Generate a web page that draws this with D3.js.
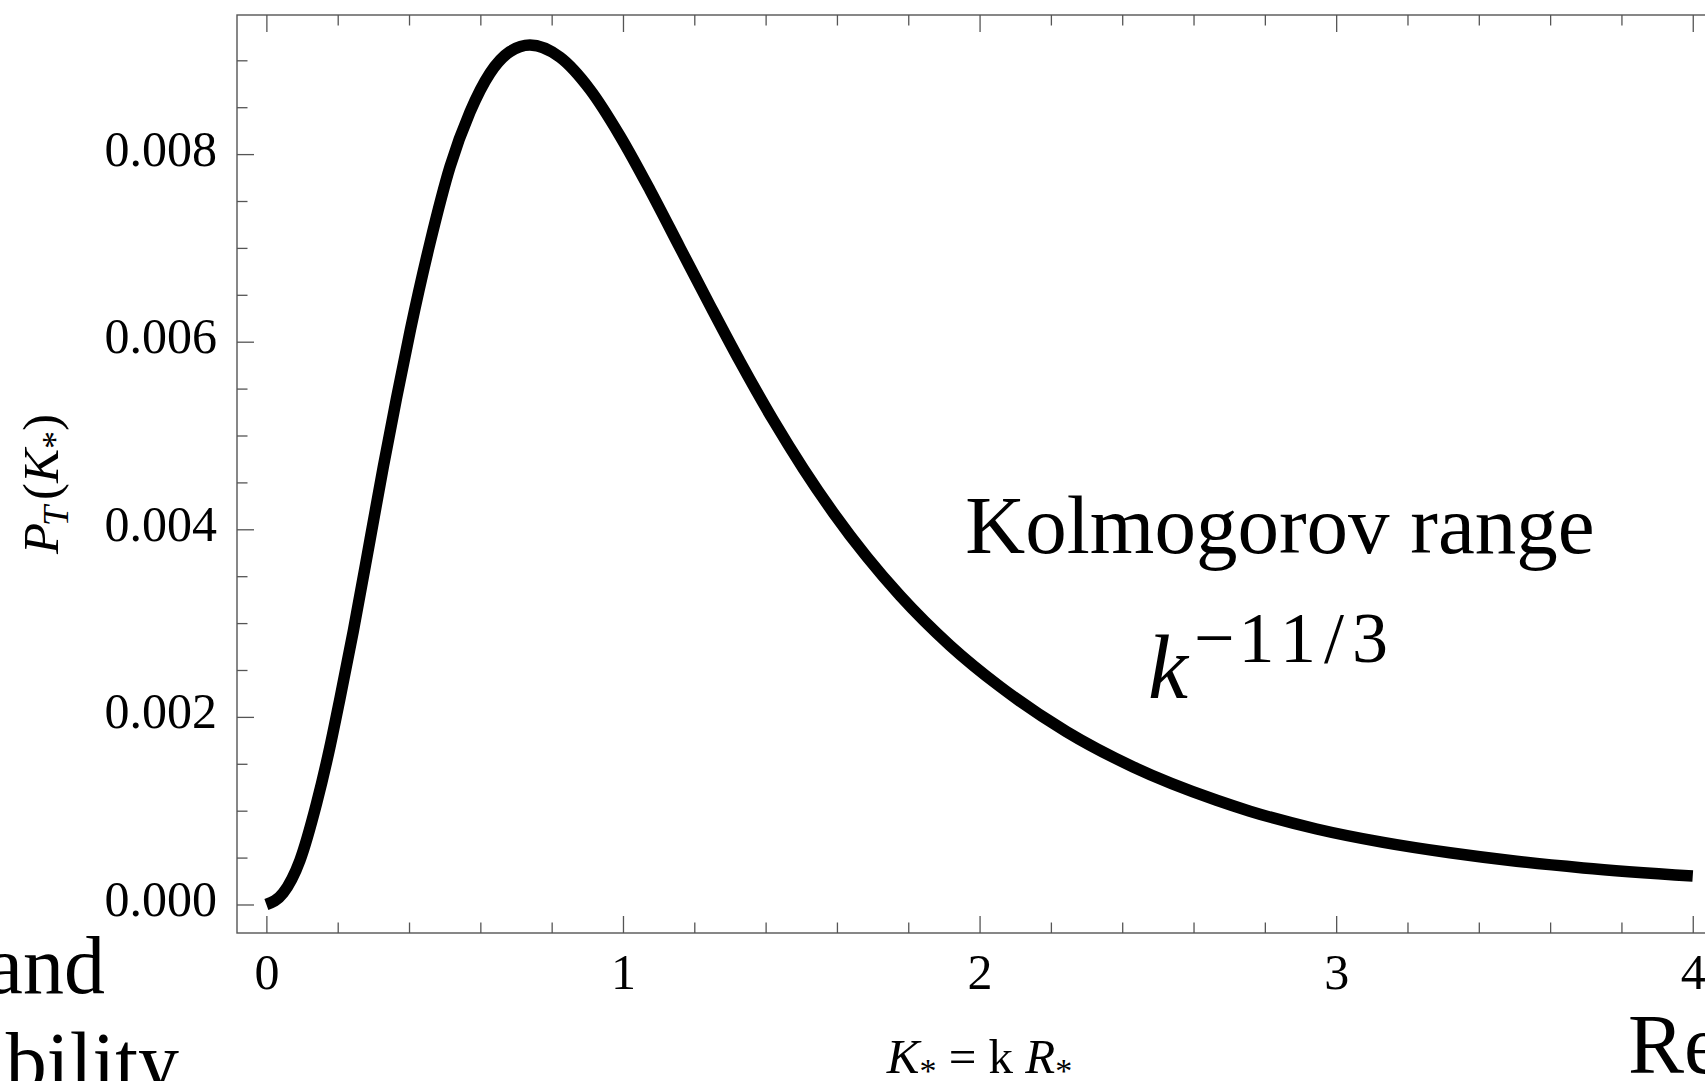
<!DOCTYPE html>
<html>
<head>
<meta charset="utf-8">
<script src="https://cdn.jsdelivr.net/npm/d3@7"></script>
<style>
  html, body { margin: 0; padding: 0; background: #fff; overflow: hidden; }
  svg { display: block; font-family: "Liberation Serif", "Times New Roman", serif; }
</style>
</head>
<body>
<script>
// transverse power spectrum P_T(K*) against K* = k R*
var kStar = [0, 0.047, 0.094, 0.141, 0.178, 0.206, 0.244, 0.291, 0.328, 0.365, 0.404,
  0.459, 0.515, 0.571, 0.627, 0.683, 0.739, 0.823, 0.907, 0.992, 1.076, 1.160, 1.244,
  1.328, 1.421, 1.506, 1.590, 1.683, 1.777, 1.917, 2.057, 2.244, 2.431, 2.665, 2.758,
  2.945, 3.132, 3.319, 3.506, 3.693, 4.0]
var power = [0, 0.000122, 0.00047, 0.001082, 0.001676, 0.00219, 0.00292, 0.003895,
  0.00467, 0.0054, 0.00613, 0.007055, 0.007865, 0.008448, 0.008862, 0.009092,
  0.009162, 0.009033, 0.00869, 0.008191, 0.007615, 0.007001, 0.006388, 0.005789,
  0.005166, 0.004645, 0.004176, 0.00371, 0.003293, 0.002762, 0.002324, 0.001842,
  0.001466, 0.001111, 0.000995, 0.000805, 0.000662, 0.000551, 0.000461, 0.00039, 0.000303]

var xMajor = [0, 1, 2, 3, 4]
var xMinor = [0.2, 0.4, 0.6, 0.8, 1.2, 1.4, 1.6, 1.8, 2.2, 2.4, 2.6, 2.8, 3.2, 3.4, 3.6, 3.8]
var yMajor = [0, 0.002, 0.004, 0.006, 0.008]
var yMinor = [0.0005, 0.001, 0.0015, 0.0025, 0.003, 0.0035, 0.0045, 0.005, 0.0055,
  0.0065, 0.007, 0.0075, 0.0085, 0.009]

var width = 1705, height = 1081
var plot = { left: 237, right: 1722, top: 15, bottom: 933 }
var serif = '"Liberation Serif", "Times New Roman", serif'

var svg = d3.select('body').append('svg')
  .attr('width', width)
  .attr('height', height)

var x = d3.scaleLinear().domain([-0.0824, 4.082]).range([plot.left, plot.right])
var y = d3.scaleLinear().domain([-0.000304, 0.009483]).range([plot.bottom, plot.top])

// slide text peeking in from behind the figure
var bg = svg.append('g').attr('fill', '#000')
bg.append('text').attr('x', 105).attr('y', 993).attr('text-anchor', 'end')
  .style('font-size', '82px').text('and')
bg.append('text').attr('x', 179).attr('y', 1089).attr('text-anchor', 'end')
  .style('font-size', '82px').text('bility')
bg.append('text').attr('x', 1628).attr('y', 1073)
  .style('font-size', '84px').text('Re')

var tickColor = '#555'

function styleAxis(g) {
  g.attr('font-family', serif)
  g.select('.domain').remove()
  g.selectAll('.tick line').attr('stroke', tickColor).attr('stroke-width', 1.3)
  g.selectAll('.tick text').attr('fill', '#000')
}

// bottom and top axes
svg.append('g')
  .attr('transform', 'translate(0,' + plot.bottom + ')')
  .call(d3.axisBottom(x).tickValues(xMinor).tickSize(-10.5).tickFormat(''))
  .call(styleAxis)
svg.append('g')
  .attr('transform', 'translate(0,' + plot.bottom + ')')
  .call(d3.axisBottom(x).tickValues(xMajor).tickSize(-17).tickPadding(20).tickFormat(d3.format('d')))
  .call(styleAxis)
  .call(g => g.selectAll('.tick text').attr('font-size', 50).attr('dy', '0.71em'))
svg.append('g')
  .attr('transform', 'translate(0,' + plot.top + ')')
  .call(d3.axisTop(x).tickValues(xMinor).tickSize(-10.5).tickFormat(''))
  .call(styleAxis)
svg.append('g')
  .attr('transform', 'translate(0,' + plot.top + ')')
  .call(d3.axisTop(x).tickValues(xMajor).tickSize(-17).tickFormat(''))
  .call(styleAxis)

// left and right axes
svg.append('g')
  .attr('transform', 'translate(' + plot.left + ',0)')
  .call(d3.axisLeft(y).tickValues(yMinor).tickSize(-10.5).tickFormat(''))
  .call(styleAxis)
svg.append('g')
  .attr('transform', 'translate(' + plot.left + ',0)')
  .call(d3.axisLeft(y).tickValues(yMajor).tickSize(-17).tickPadding(20).tickFormat(d3.format('.3f')))
  .call(styleAxis)
  .call(g => g.selectAll('.tick text').attr('font-size', 50).attr('dy', '0.22em'))
svg.append('g')
  .attr('transform', 'translate(' + plot.right + ',0)')
  .call(d3.axisRight(y).tickValues(yMinor).tickSize(-10.5).tickFormat(''))
  .call(styleAxis)
svg.append('g')
  .attr('transform', 'translate(' + plot.right + ',0)')
  .call(d3.axisRight(y).tickValues(yMajor).tickSize(-17).tickFormat(''))
  .call(styleAxis)

// frame
svg.append('rect')
  .attr('x', plot.left).attr('y', plot.top)
  .attr('width', plot.right - plot.left)
  .attr('height', plot.bottom - plot.top)
  .attr('fill', 'none')
  .attr('stroke', tickColor)
  .attr('stroke-width', 1.4)

// the spectrum
var line = d3.line()
  .x((d, i) => x(kStar[i]))
  .y(d => y(d))
  .curve(d3.curveMonotoneX)

svg.append('path')
  .datum(power)
  .attr('d', line)
  .attr('fill', 'none')
  .attr('stroke', '#000')
  .attr('stroke-width', 11.5)

// axis titles
var xt = svg.append('text')
  .attr('x', (plot.left + plot.right) / 2)
  .attr('y', 1073)
  .attr('text-anchor', 'middle')
  .style('font-size', '49px')
xt.append('tspan').style('font-style', 'italic').text('K')
xt.append('tspan').attr('dy', 9).style('font-size', '34px').text('*')
xt.append('tspan').attr('dy', -9).text(' = k ')
xt.append('tspan').style('font-style', 'italic').text('R')
xt.append('tspan').attr('dy', 9).style('font-size', '34px').text('*')

var yt = svg.append('text')
  .attr('transform', 'translate(58,' + 484 + ') rotate(-90)')
  .attr('text-anchor', 'middle')
  .style('font-size', '51px')
yt.append('tspan').style('font-style', 'italic').text('P')
yt.append('tspan').attr('dy', 10).attr('dx', -3).style('font-style', 'italic').style('font-size', '36px').text('T')
yt.append('tspan').attr('dy', -10).attr('dx', 6).text('(')
yt.append('tspan').style('font-style', 'italic').text('K')
yt.append('tspan').attr('dy', 9).style('font-size', '36px').text('*')
yt.append('tspan').attr('dy', -9).text(')')

// Kolmogorov annotation
svg.append('text')
  .attr('x', 1280).attr('y', 553)
  .attr('text-anchor', 'middle')
  .style('font-size', '83px')
  .text('Kolmogorov range')

var kt = svg.append('text')
  .attr('x', 1148).attr('y', 698)
  .style('font-size', '90px')
kt.append('tspan').style('font-style', 'italic').text('k')
kt.append('tspan')
  .attr('dy', -36).attr('dx', 6)
  .style('font-size', '72px')
  .text('\u2212')
kt.append('tspan')
  .attr('dx', 4)
  .style('font-size', '72px')
  .style('letter-spacing', '8px')
  .text('11/3')
</script>
</body>
</html>
